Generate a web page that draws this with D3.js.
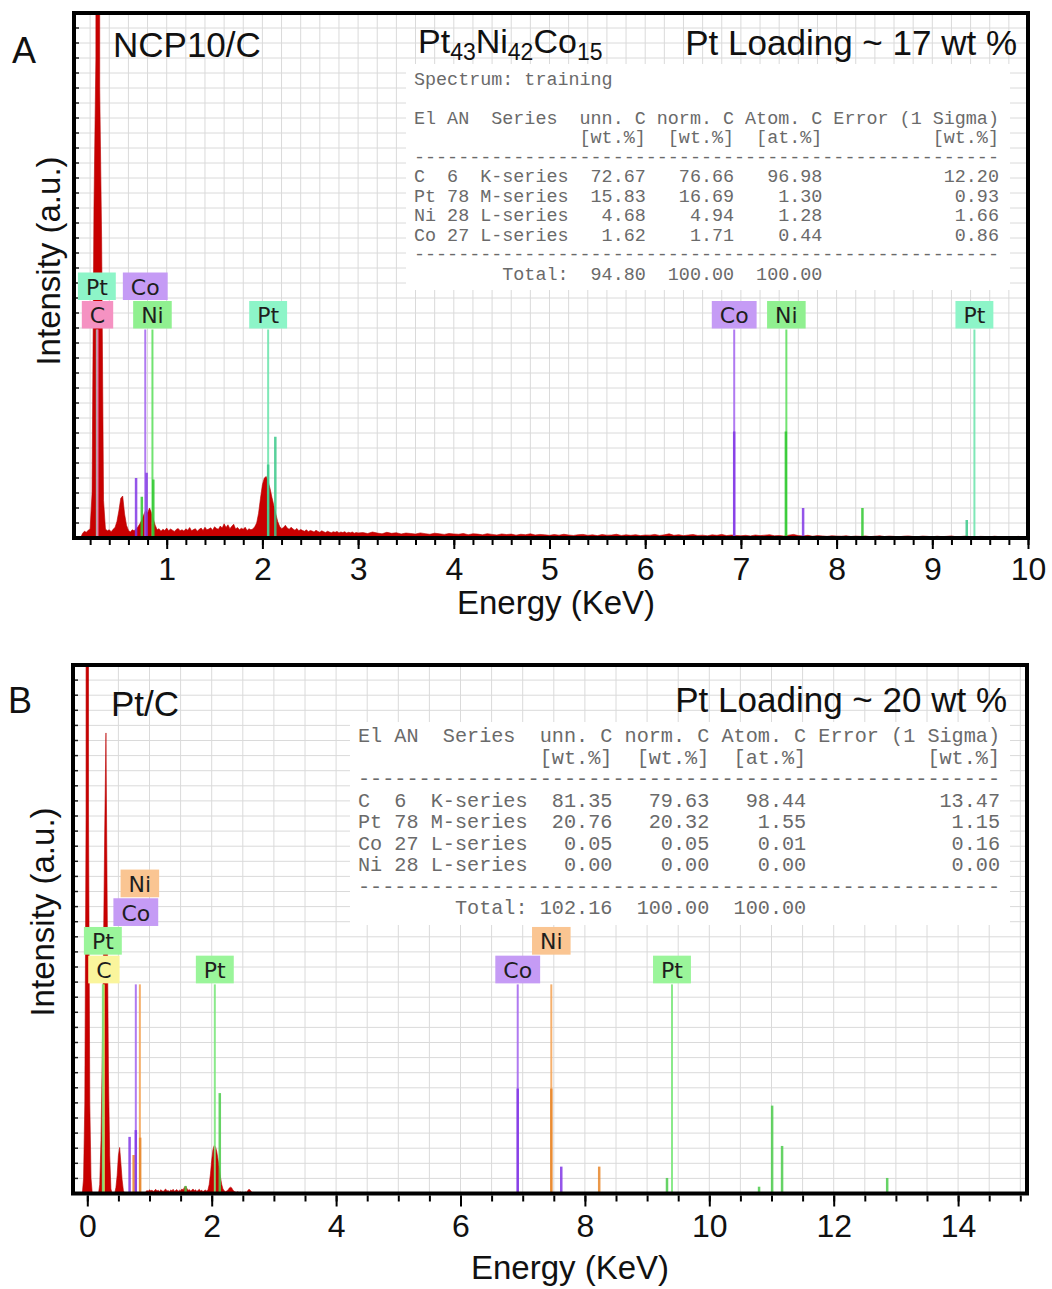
<!DOCTYPE html>
<html>
<head>
<meta charset="utf-8">
<script src="https://cdn.jsdelivr.net/npm/d3@7"></script>
<style>
  body { margin: 0; background: #fff; }
  svg text { font-family: 'Liberation Sans', Arial, sans-serif; }
</style>
</head>
<body>
<svg id="chart" width="1052" height="1289"></svg>
<script>
// ---------- data ----------

// panel A spectrum, counts per 0.02 keV channel from 0.00 to 3.00 keV
const specA_low = [
  0, 0, 0, 0, 0, 0, 30, 45, 38, 52,
  60, 300, 2200, 3200, 60000, 3000, 2000, 250, 60, 48,
  55, 42, 58, 70, 110, 180, 265, 280, 160, 85,
  52, 40, 55, 48, 62, 75, 95, 120, 155, 185,
  165, 200, 170, 125, 85, 55, 62, 45, 58, 50,
  66, 48, 60, 52, 44, 57, 63, 49, 55, 46,
  61, 52, 70, 48, 56, 62, 45, 58, 66, 50,
  72, 55, 60, 68, 52, 75, 64, 58, 80, 66,
  95, 70, 88, 62, 78, 92, 60, 70, 55, 65,
  58, 72, 50, 62, 55, 60, 75, 100, 165, 265,
  355, 400, 410, 375, 330, 270, 215, 160, 110, 78,
  62, 70, 85, 66, 58, 72, 60, 52, 64, 48,
  57, 50, 45, 55, 42, 50, 46, 40, 52, 44,
  38, 48, 42, 36, 45, 40, 35, 42, 38, 44,
  34, 40, 36, 42, 33, 38, 35, 40, 32, 37,
  34
];
// panel A spectrum, counts per 0.05 keV channel from 3.05 to 10.00 keV
const specA_high = [
  36, 30, 40, 33, 28, 38, 31, 35, 27, 33, 30, 26, 34, 29, 25, 32, 28, 24, 30, 27,
  25, 30, 22, 28, 26, 21, 29, 24, 20, 27, 23, 26, 19, 25, 22, 28, 20, 24, 21, 18,
  23, 19, 25, 20, 17, 22, 24, 18, 21, 16, 23, 19, 20, 25, 17, 21, 18, 22, 16, 20,
  19, 24, 17, 21, 28, 18, 22, 16, 20, 23, 17, 19, 15, 21, 18, 24, 16, 20, 17, 15,
  18, 14, 20, 16, 19, 22, 15, 17, 13, 19, 24, 16, 14, 18, 12, 16, 14, 11, 15, 13,
  12, 15, 10, 13, 11, 14, 9, 12, 15, 10, 13, 11, 8, 12, 14, 10, 9, 13, 11, 8,
  12, 9, 11, 14, 8, 10, 13, 9, 7, 11, 10, 8, 12, 9, 7, 10, 8, 11, 7, 9
];
// panel B spectrum, counts per 0.02 keV channel from -0.10 to 3.00 keV
const specB = [
  0, 0, 100, 600, 2500, 60000, 2500, 600, 100, 0,
  0, 0, 0, 0, 0, 60, 350, 900, 1600, 2400,
  3050, 1900, 800, 250, 30, 0, 0, 0, 40, 120,
  250, 305, 200, 90, 20, 0, 0, 0, 0, 5,
  8, 4, 10, 6, 12, 8, 5, 10, 6, 0,
  0, 0, 12, 20, 15, 25, 18, 22, 14, 20,
  28, 16, 22, 12, 25, 18, 14, 22, 30, 16,
  20, 12, 24, 18, 28, 15, 20, 26, 14, 22,
  18, 30, 24, 40, 50, 35, 20, 26, 16, 22,
  30, 18, 25, 14, 20, 28, 16, 22, 12, 18,
  24, 15, 25, 60, 130, 220, 290, 318, 310, 280,
  230, 170, 110, 62, 32, 18, 12, 16, 22, 35,
  42, 38, 24, 14, 10, 8, 12, 6, 10, 5,
  8, 4, 10, 6, 20, 28, 22, 10, 5, 8,
  4, 6, 3, 5, 2, 0, 0, 0, 0, 0,
  0, 0, 0, 0, 0, 0
];

// labelled element lines: [element, energy keV]
const labelsA = [['Pt', 0.27], ['C', 0.277], ['Co', 0.776], ['Ni', 0.851], ['Pt', 2.06], ['Co', 6.93], ['Ni', 7.475], ['Pt', 9.44]];
const labelsB = [['C', 0.267], ['Pt', 0.25], ['Co', 0.78], ['Ni', 0.845], ['Pt', 2.05], ['Co', 6.92], ['Ni', 7.46], ['Pt', 9.40]];

// fitted line heights: [element, energy keV, counts]
const peaksA = [['Co', 0.68, 400], ['Ni', 0.74, 275], ['Co', 0.79, 435], ['Ni', 0.86, 390], ['Pt', 2.06, 490], ['Pt', 2.135, 675],
  ['Co', 6.93, 710], ['Ni', 7.47, 710], ['Co', 7.65, 200], ['Ni', 8.27, 200], ['Pt', 9.36, 120]];
const peaksB = [['Co', 0.68, 375], ['Ni', 0.745, 255], ['Co', 0.78, 420], ['Ni', 0.85, 370], ['Pt', 1.58, 50], ['Pt', 2.13, 665],
  ['Co', 6.92, 695], ['Ni', 7.46, 695], ['Co', 7.62, 178], ['Ni', 8.23, 178], ['Pt', 9.32, 103], ['Pt', 10.8, 45],
  ['Pt', 11.01, 582], ['Pt', 11.17, 315], ['Pt', 12.86, 103]];

// quantification tables
const tableA_el = ['C', 'Pt', 'Ni', 'Co'];
const tableA_an = [6, 78, 28, 27];
const tableA_series = ['K-series', 'M-series', 'L-series', 'L-series'];
const tableA_unn = [72.67, 15.83, 4.68, 1.62];
const tableA_norm = [76.66, 16.69, 4.94, 1.71];
const tableA_atom = [96.98, 1.30, 1.28, 0.44];
const tableA_err = [12.20, 0.93, 1.66, 0.86];
const tableA_total = [94.80, 100.00, 100.00];

const tableB_el = ['C', 'Pt', 'Co', 'Ni'];
const tableB_an = [6, 78, 27, 28];
const tableB_series = ['K-series', 'M-series', 'L-series', 'L-series'];
const tableB_unn = [81.35, 20.76, 0.05, 0.00];
const tableB_norm = [79.63, 20.32, 0.05, 0.00];
const tableB_atom = [98.44, 1.55, 0.01, 0.00];
const tableB_err = [13.47, 1.15, 0.16, 0.00];
const tableB_total = [102.16, 100.00, 100.00];

const ticksA = [1, 2, 3, 4, 5, 6, 7, 8, 9, 10];
const ticksB = [0, 2, 4, 6, 8, 10, 12, 14];

// ---------- drawing ----------
const svg = d3.select('#chart');
svg.append('rect').attr('width', 1052).attr('height', 1289).attr('fill', '#fff');

const colorsA = {
  Pt: {box: '#8df5c8', line: '#72e6b0', peak: '#3cc98a'},
  C: {box: '#f592c2', line: '#ef7db4', peak: '#e0569c'},
  Co: {box: '#c59bf5', line: '#a86cf0', peak: '#8238e6'},
  Ni: {box: '#90f090', line: '#62e062', peak: '#30c830'},
};
const colorsB = {
  Pt: {box: '#9af59a', line: '#7ee87e', peak: '#4ccc4c'},
  C: {box: '#faf59c', line: '#d9d65a', peak: '#c8c040'},
  Co: {box: '#c59bf5', line: '#a86cf0', peak: '#8238e6'},
  Ni: {box: '#fac592', line: '#f5a85e', peak: '#e8862a'},
};

function toPoints(counts, start, step) {
  return counts.map((c, i) => [start + i * step, c]);
}

function tableLines(t) {
  const rows = t.el.map((e, i) =>
    e.padEnd(3) + String(t.an[i]).padEnd(3) + t.series[i] + ' ' +
    t.unn[i].toFixed(2).padStart(6) + ' ' +
    t.norm[i].toFixed(2).padStart(7) + ' ' +
    t.atom[i].toFixed(2).padStart(7) +
    t.err[i].toFixed(2).padStart(16));
  const dash = '-'.repeat(53);
  return [
    'El AN  Series  unn. C norm. C Atom. C Error (1 Sigma)',
    ' '.repeat(15) + '[wt.%]  [wt.%]  [at.%]' + ' '.repeat(10) + '[wt.%]',
    dash,
    ...rows,
    dash,
    ' '.repeat(8) + 'Total: ' + t.total[0].toFixed(2).padStart(6) + ' ' +
      t.total[1].toFixed(2).padStart(7) + ' ' + t.total[2].toFixed(2).padStart(7),
  ];
}

function drawPanel(p) {
  const g = svg.append('g');
  const x = d3.scaleLinear().domain(p.xDomain).range(p.xRange);
  const y = d3.scaleLinear().domain([0, 3500]).range([p.bottom, p.top]);
  const clipId = 'clip' + p.id;

  g.append('clipPath').attr('id', clipId)
      .append('rect')
      .attr('x', p.left).attr('y', p.top)
      .attr('width', p.right - p.left).attr('height', p.bottom - p.top);

  // grid
  const grid = g.append('g').attr('stroke', '#dadada').attr('stroke-width', 1);
  grid.selectAll('.vg').data(p.gridX.filter((e) => x(e) > p.left + 2 && x(e) < p.right - 2))
      .join('line')
      .attr('x1', (d) => x(d)).attr('x2', (d) => x(d))
      .attr('y1', p.top).attr('y2', p.bottom);
  const gridY = d3.range(100, 3500, 100);
  grid.selectAll('.hg').data(gridY)
      .join('line')
      .attr('x1', p.left).attr('x2', p.right)
      .attr('y1', (d) => y(d)).attr('y2', (d) => y(d));

  // small ticks on the inside of the left frame
  g.append('g').selectAll('line').data(gridY)
      .join('line')
      .attr('x1', p.left).attr('x2', p.left + 5)
      .attr('y1', (d) => y(d)).attr('y2', (d) => y(d))
      .attr('stroke', '#222').attr('stroke-width', 1.5);

  // quantification table
  g.append('rect')
      .attr('x', p.table.x0).attr('y', p.table.y0)
      .attr('width', p.table.x1 - p.table.x0).attr('height', p.table.y1 - p.table.y0)
      .attr('fill', '#fff');
  g.append('g').selectAll('text').data(p.table.lines)
      .join('text')
      .attr('x', p.table.textX)
      .attr('y', (d, i) => p.table.firstY + i * p.table.step)
      .style('white-space', 'pre')
      .style('font-family', "'Liberation Mono', 'Courier New', monospace")
      .style('font-size', p.table.fontSize + 'px')
      .attr('fill', '#6a6a6a')
      .text((d) => d);

  // spectrum
  const area = d3.area()
      .x((d) => x(d[0]))
      .y0(y(0))
      .y1((d) => y(d[1]));
  g.append('path')
      .datum(p.spectrum)
      .attr('clip-path', 'url(#' + clipId + ')')
      .attr('d', area)
      .attr('fill', '#c80000')
      .attr('stroke', '#b80000')
      .attr('stroke-width', 0.6);

  // element marker lines
  const lines = g.append('g').attr('clip-path', 'url(#' + clipId + ')');
  lines.selectAll('.lab').data(p.labels)
      .join('line')
      .attr('x1', (d) => x(d[1])).attr('x2', (d) => x(d[1]))
      .attr('y1', y(p.labelBase)).attr('y2', y(0))
      .attr('stroke', (d) => p.colors[d[0]].line)
      .attr('stroke-width', 2)
      .attr('opacity', 0.9);
  lines.selectAll('.pk').data(p.peaks)
      .join('line')
      .attr('x1', (d) => x(d[1])).attr('x2', (d) => x(d[1]))
      .attr('y1', (d) => y(d[2])).attr('y2', y(0))
      .attr('stroke', (d) => p.colors[d[0]].peak)
      .attr('stroke-width', 2.5)
      .attr('opacity', 0.85);

  // label boxes
  const boxes = g.append('g').selectAll('g').data(p.labels)
      .join('g')
      .attr('transform', (d, i) => 'translate(' + x(d[1]) + ',' +
        (y(p.labelBase) - (p.rows[i] + 1) * p.rowH) + ')');
  boxes.append('rect')
      .attr('y', 0).attr('height', p.rowH - 1)
      .attr('fill', (d) => p.colors[d[0]].box);
  boxes.append('text')
      .attr('y', p.rowH / 2 + 8)
      .attr('text-anchor', 'middle')
      .style('font-family', "'DejaVu Sans', Verdana, sans-serif")
      .style('font-size', '22px')
      .attr('fill', '#1e1e1e')
      .text((d) => d[0]);
  boxes.each(function() {
    const w = d3.select(this).select('text').node().getComputedTextLength() + 16;
    d3.select(this).select('rect').attr('x', -w / 2).attr('width', w);
  });

  // frame
  g.append('rect')
      .attr('x', p.left).attr('y', p.top)
      .attr('width', p.right - p.left).attr('height', p.bottom - p.top)
      .attr('fill', 'none').attr('stroke', '#000').attr('stroke-width', 4);

  // x axis
  const minorAxis = d3.axisBottom(x).tickValues(p.minorTicks).tickSize(p.minorLen).tickFormat('');
  const majorAxis = d3.axisBottom(x).tickValues(p.majorTicks).tickSize(p.majorLen).tickPadding(p.tickPad)
      .tickFormat(d3.format('d'));
  const ax1 = g.append('g').attr('transform', 'translate(0,' + (p.bottom + 2) + ')').call(minorAxis);
  const ax2 = g.append('g').attr('transform', 'translate(0,' + (p.bottom + 2) + ')').call(majorAxis);
  [ax1, ax2].forEach((a) => {
    a.select('.domain').remove();
    a.selectAll('line').attr('stroke', '#000').attr('stroke-width', 2);
  });
  ax2.selectAll('text')
      .style('font-family', "'Liberation Sans', Arial, sans-serif")
      .style('font-size', '32px')
      .attr('fill', '#111');

  // axis titles
  g.append('text')
      .attr('x', p.xTitle[0]).attr('y', p.xTitle[1])
      .attr('text-anchor', 'middle')
      .style('font-size', '33px').attr('fill', '#111')
      .text('Energy (KeV)');
  g.append('text')
      .attr('transform', 'translate(' + p.yTitle[0] + ',' + p.yTitle[1] + ') rotate(-90)')
      .attr('text-anchor', 'middle')
      .style('font-size', '33px').attr('fill', '#111')
      .text('Intensity (a.u.)');

  return g;
}

const gA = drawPanel({
  id: 'A',
  xDomain: [0, 10], xRange: [71, 1028],
  left: 74, right: 1028, top: 13, bottom: 538,
  gridX: d3.range(1, 50).map((i) => i * 0.2),
  minorTicks: d3.range(1, 51).map((i) => i * 0.2),
  majorTicks: ticksA,
  minorLen: 5, majorLen: 9, tickPad: 8,
  spectrum: toPoints(specA_low, 0, 0.02).concat(toPoints(specA_high, 3.05, 0.05)),
  labels: labelsA, rows: [1, 0, 1, 0, 0, 0, 0, 0],
  peaks: peaksA, colors: colorsA,
  labelBase: 1390, rowH: 28.5,
  table: {
    x0: 406, x1: 1010, y0: 64, y1: 290, textX: 414, firstY: 84.5, step: 19.5, fontSize: 18.4,
    lines: ['Spectrum: training', ''].concat(tableLines({
      el: tableA_el, an: tableA_an, series: tableA_series, unn: tableA_unn,
      norm: tableA_norm, atom: tableA_atom, err: tableA_err, total: tableA_total,
    })),
  },
  xTitle: [556, 614], yTitle: [60, 261],
});

const gB = drawPanel({
  id: 'B',
  xDomain: [0, 14], xRange: [87.3, 958.1],
  left: 73, right: 1027, top: 665, bottom: 1193.5,
  gridX: d3.range(0, 31).map((i) => i * 0.5),
  minorTicks: d3.range(0, 31).map((i) => i * 0.5),
  majorTicks: ticksB,
  minorLen: 6, majorLen: 11, tickPad: 8,
  spectrum: toPoints(specB, -0.10, 0.02),
  labels: labelsB, rows: [0, 1, 2, 3, 0, 0, 1, 0],
  peaks: peaksB, colors: colorsB,
  labelBase: 1385, rowH: 28.7,
  table: {
    x0: 350, x1: 1010, y0: 722, y1: 925, textX: 358, firstY: 742, step: 21.5, fontSize: 20.2,
    lines: tableLines({
      el: tableB_el, an: tableB_an, series: tableB_series, unn: tableB_unn,
      norm: tableB_norm, atom: tableB_atom, err: tableB_err, total: tableB_total,
    }),
  },
  xTitle: [570, 1279], yTitle: [54, 912],
});

// panel letters and headings
svg.append('text').attr('x', 12).attr('y', 63).style('font-size', '36px').attr('fill', '#111').text('A');
svg.append('text').attr('x', 8).attr('y', 713).style('font-size', '36px').attr('fill', '#111').text('B');

svg.append('text').attr('x', 113).attr('y', 57).style('font-size', '35px').attr('fill', '#111').text('NCP10/C');
svg.append('text').attr('x', 111).attr('y', 716).style('font-size', '35px').attr('fill', '#111').text('Pt/C');

// Pt43Ni42Co15 with subscripts
const formula = svg.append('text').attr('x', 418).attr('y', 53).attr('fill', '#111').style('font-size', '34px');
[['Pt', '43'], ['Ni', '42'], ['Co', '15']].forEach((pair, i) => {
  formula.append('tspan').attr('dy', i === 0 ? 0 : -7).style('font-size', '34px').text(pair[0]);
  formula.append('tspan').attr('dy', 7).style('font-size', '23px').text(pair[1]);
});

svg.append('text').attr('x', 1017).attr('y', 55).attr('text-anchor', 'end')
    .style('font-size', '35px').attr('fill', '#111').text('Pt Loading ~ 17 wt %');
svg.append('text').attr('x', 1007).attr('y', 712).attr('text-anchor', 'end')
    .style('font-size', '35px').attr('fill', '#111').text('Pt Loading ~ 20 wt %');
</script>
</body>
</html>
